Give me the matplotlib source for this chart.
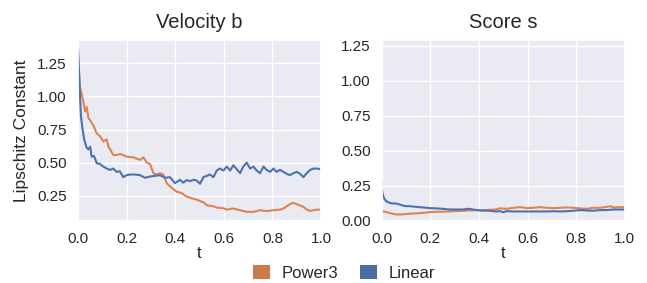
import matplotlib
matplotlib.use("Agg")
import matplotlib.pyplot as plt
from matplotlib.patches import Patch
import seaborn as sns

# ---- data ----
vel_lin_t = [0.000, 0.004, 0.007, 0.012, 0.018, 0.026, 0.036, 0.043, 0.050, 0.056,
             0.066, 0.077, 0.090, 0.104, 0.118, 0.132, 0.145, 0.159, 0.172, 0.186,
             0.200, 0.213, 0.234, 0.255, 0.276, 0.296, 0.317, 0.337, 0.358, 0.378,
             0.399, 0.420, 0.433, 0.447, 0.461, 0.475, 0.488, 0.502, 0.516, 0.530,
             0.543, 0.557, 0.571, 0.584, 0.598, 0.612, 0.626, 0.639, 0.653, 0.667,
             0.680, 0.694, 0.708, 0.722, 0.735, 0.749, 0.763, 0.776, 0.790, 0.804,
             0.817, 0.831, 0.845, 0.859, 0.872, 0.886, 0.900, 0.914, 0.927, 0.941,
             0.955, 0.969, 0.982, 1.000]
vel_lin_v = [1.36, 1.20, 1.05, 0.85, 0.76, 0.67, 0.61, 0.60, 0.62, 0.545,
             0.55, 0.495, 0.49, 0.47, 0.455, 0.445, 0.455, 0.43, 0.435, 0.39,
             0.405, 0.41, 0.41, 0.405, 0.385, 0.395, 0.40, 0.405, 0.385, 0.39,
             0.345, 0.37, 0.348, 0.368, 0.36, 0.37, 0.365, 0.34, 0.39, 0.40,
             0.41, 0.39, 0.44, 0.455, 0.44, 0.47, 0.44, 0.48, 0.45, 0.42,
             0.47, 0.50, 0.455, 0.47, 0.44, 0.42, 0.47, 0.445, 0.43, 0.455,
             0.43, 0.445, 0.43, 0.415, 0.405, 0.42, 0.43, 0.415, 0.39, 0.42,
             0.445, 0.455, 0.455, 0.45]

vel_pow_t = [0.000, 0.003, 0.008, 0.015, 0.022, 0.029, 0.036, 0.043, 0.050, 0.063,
             0.077, 0.090, 0.104, 0.118, 0.125, 0.132, 0.145, 0.159, 0.173, 0.186,
             0.200, 0.228, 0.255, 0.269, 0.283, 0.296, 0.310, 0.324, 0.337, 0.351,
             0.365, 0.385, 0.406, 0.426, 0.447, 0.468, 0.488, 0.516, 0.530, 0.557,
             0.571, 0.598, 0.612, 0.639, 0.667, 0.680, 0.694, 0.722, 0.735, 0.749,
             0.776, 0.804, 0.831, 0.845, 0.859, 0.872, 0.886, 0.900, 0.914, 0.927,
             0.941, 0.955, 0.969, 0.982, 1.000]
vel_pow_v = [1.22, 1.20, 1.07, 1.02, 0.96, 0.885, 0.92, 0.835, 0.82, 0.78,
             0.72, 0.70, 0.66, 0.675, 0.62, 0.60, 0.557, 0.557, 0.565, 0.557,
             0.545, 0.54, 0.52, 0.54, 0.50, 0.49, 0.42, 0.41, 0.42, 0.41,
             0.344, 0.31, 0.28, 0.27, 0.243, 0.23, 0.22, 0.20, 0.178, 0.17,
             0.16, 0.155, 0.145, 0.153, 0.14, 0.135, 0.128, 0.128, 0.135, 0.14,
             0.134, 0.14, 0.145, 0.153, 0.17, 0.186, 0.196, 0.186, 0.176, 0.166,
             0.145, 0.135, 0.14, 0.145, 0.145]

sc_lin_t = [0.000, 0.001, 0.004, 0.011, 0.018, 0.031, 0.045, 0.059, 0.073, 0.086,
            0.100, 0.114, 0.141, 0.169, 0.196, 0.223, 0.251, 0.278, 0.306, 0.333,
            0.360, 0.388, 0.415, 0.443, 0.470, 0.487, 0.500, 0.514, 0.542, 0.569,
            0.597, 0.624, 0.651, 0.679, 0.706, 0.734, 0.761, 0.789, 0.816, 0.844,
            0.871, 0.898, 0.926, 0.953, 0.981, 1.000]
sc_lin_v = [0.285, 0.223, 0.187, 0.156, 0.140, 0.128, 0.123, 0.123, 0.116, 0.109,
            0.104, 0.104, 0.099, 0.095, 0.090, 0.088, 0.085, 0.080, 0.080, 0.080,
            0.085, 0.076, 0.073, 0.071, 0.066, 0.068, 0.061, 0.068, 0.066, 0.066,
            0.066, 0.066, 0.066, 0.066, 0.068, 0.066, 0.068, 0.071, 0.076, 0.073,
            0.071, 0.076, 0.076, 0.080, 0.080, 0.080]

sc_pow_t = [0.000, 0.018, 0.038, 0.059, 0.086, 0.114, 0.141, 0.169, 0.196, 0.223,
            0.251, 0.278, 0.306, 0.333, 0.360, 0.388, 0.415, 0.443, 0.470, 0.484,
            0.514, 0.542, 0.569, 0.597, 0.624, 0.651, 0.679, 0.706, 0.734, 0.761,
            0.789, 0.816, 0.844, 0.871, 0.898, 0.926, 0.940, 0.953, 0.981, 1.000]
sc_pow_v = [0.069, 0.062, 0.052, 0.045, 0.045, 0.050, 0.052, 0.056, 0.061, 0.064,
            0.064, 0.066, 0.069, 0.071, 0.073, 0.076, 0.073, 0.078, 0.080, 0.088,
            0.085, 0.092, 0.097, 0.090, 0.092, 0.097, 0.092, 0.090, 0.092, 0.095,
            0.092, 0.088, 0.085, 0.092, 0.092, 0.099, 0.104, 0.095, 0.097, 0.097]

titles = ["Velocity b", "Score s"]
series_names = ["Power3", "Linear"]

# ---- style ----
sns.set_theme(style="darkgrid")
plt.rcParams['font.family'] = ['Liberation Sans', 'DejaVu Sans']

c_orange = "#DD8452"
c_blue = "#4C72B0"
leg_orange = "#CC7A45"
leg_blue = "#4A6DA7"

fig = plt.figure(figsize=(6.47, 2.83), dpi=100)
ax1 = fig.add_axes([0.1206, 0.2201, 0.3756, 0.6385])
ax2 = fig.add_axes([0.5900, 0.2201, 0.3756, 0.6385])

ax1.plot(vel_pow_t, vel_pow_v, color=c_orange, lw=1.5)
ax1.plot(vel_lin_t, vel_lin_v, color=c_blue, lw=1.5)
ax2.plot(sc_pow_t, sc_pow_v, color=c_orange, lw=1.5)
ax2.plot(sc_lin_t, sc_lin_v, color=c_blue, lw=1.5)

ticks_y = [0.0, 0.25, 0.5, 0.75, 1.0, 1.25]
for ax, title in zip([ax1, ax2], titles):
    ax.set_xticks([0.0, 0.2, 0.4, 0.6, 0.8, 1.0])
    ax.set_yticks(ticks_y)
    ax.set_xlim(0, 1)
    ax.set_title(title, fontsize=14.5, pad=9)
    ax.set_xlabel("t", fontsize=12, labelpad=0)
    ax.tick_params(labelsize=11, pad=2)
ax1.set_ylim(0.061, 1.426)
ax2.set_ylim(0.0, 1.29)
ax1.set_ylabel("Lipschitz Constant", fontsize=12.5, labelpad=6)

handles = [Patch(facecolor=leg_orange, edgecolor='none'),
           Patch(facecolor=leg_blue, edgecolor='none')]
fig.legend(handles, series_names, loc='lower center', bbox_to_anchor=(0.532, -0.045),
           ncol=2, frameon=False, fontsize=12, handlelength=1.0, handleheight=0.9,
           handletextpad=0.7, columnspacing=1.3)

fig.savefig("out.png", dpi=100)
